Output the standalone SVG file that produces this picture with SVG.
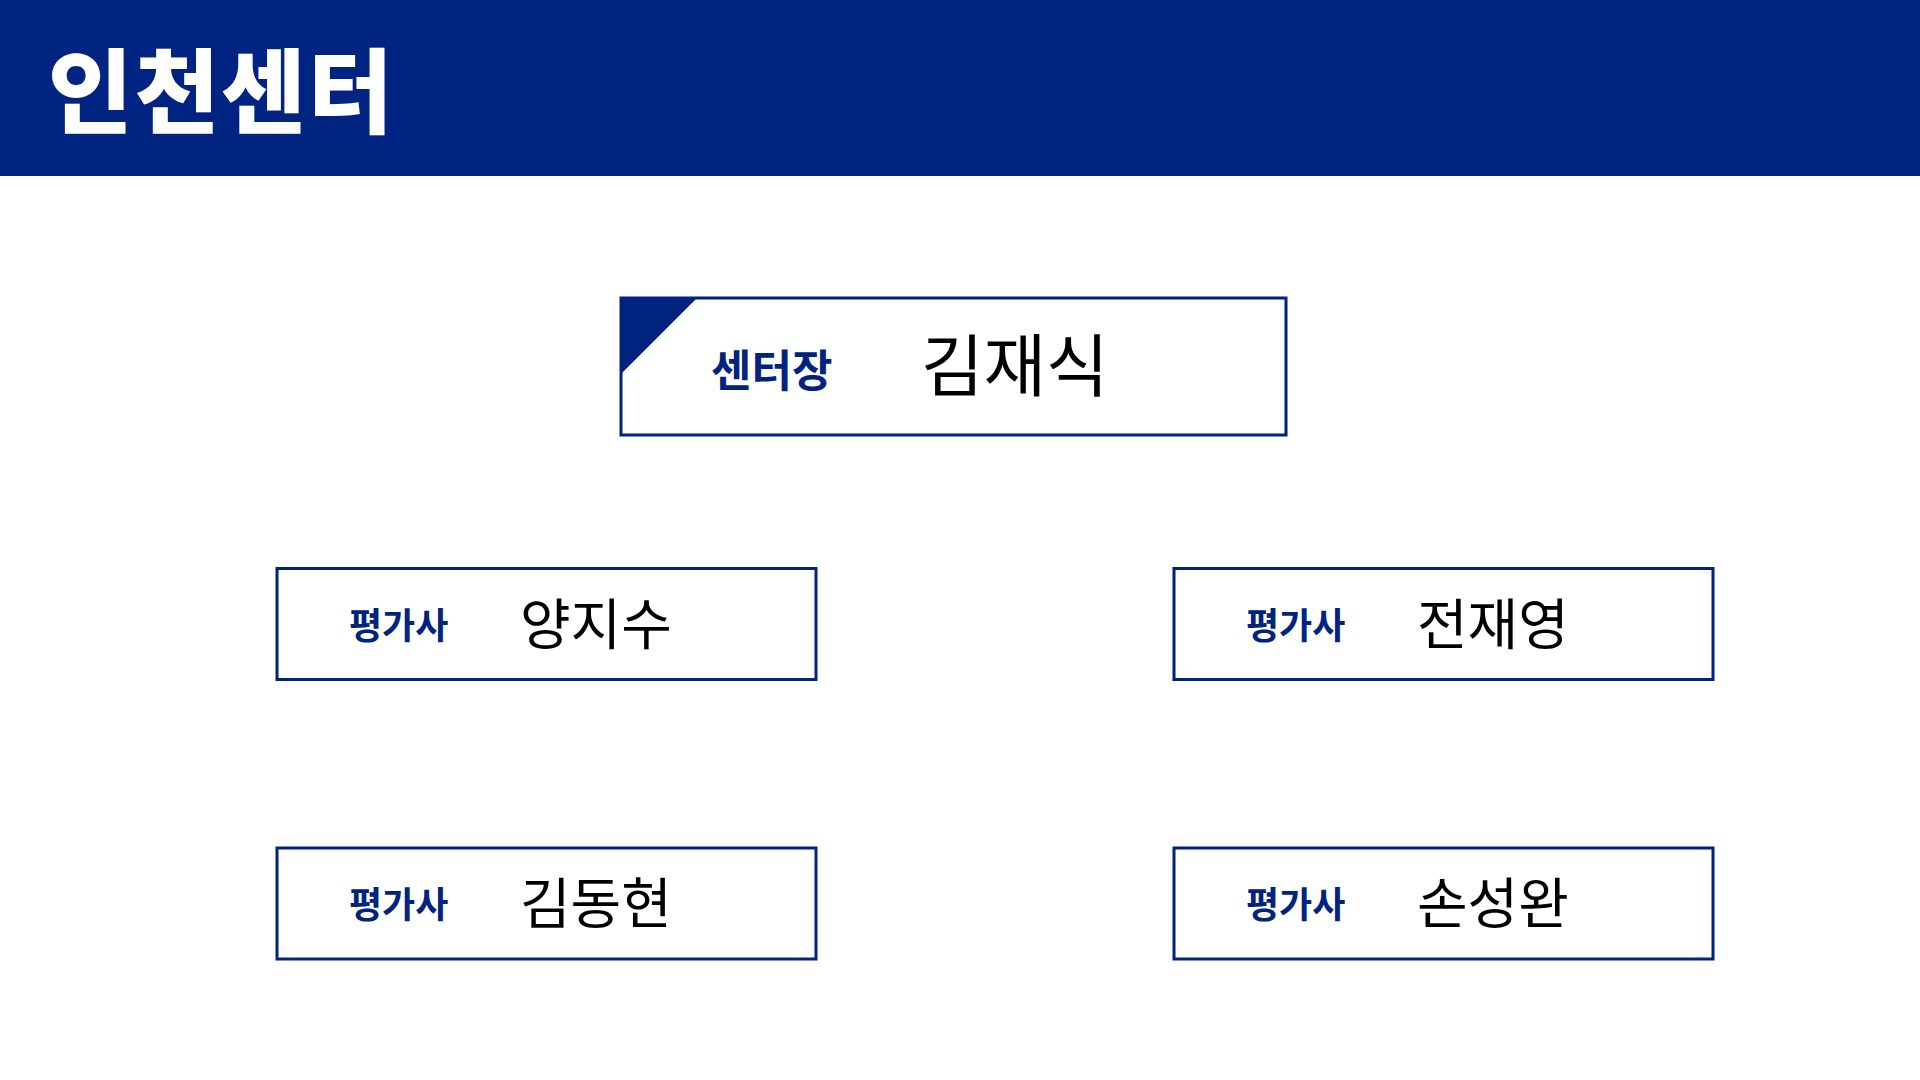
<svg xmlns="http://www.w3.org/2000/svg" width="1920" height="1080" viewBox="0 0 1920 1080">
<style>
.box{fill:#ffffff;stroke:#00237f;stroke-width:3}
.role{font-family:"Noto Sans CJK KR","Noto Sans",sans-serif;font-weight:700;fill:#00237f}
.name{font-family:"Noto Sans CJK KR","Noto Sans",sans-serif;font-weight:400;fill:#000000}
.title{font-family:"Noto Sans CJK KR","Noto Sans",sans-serif;font-weight:900;fill:#ffffff}
</style>
<rect x="0" y="0" width="1920" height="1080" fill="#ffffff"/>
<g id="header">
<rect x="0" y="0" width="1920" height="176" fill="#012482"/>
<text class="title" x="48" y="126" font-size="92" letter-spacing="2">인천센터</text>
</g>
<g id="connectors"></g>
<g id="node-head">
<rect class="box" x="621" y="298" width="665" height="137"/>
<polygon points="621,298 697,298 621,374" fill="#00237f"/>
<text class="role" x="711" y="387" font-size="44">센터장</text>
<text class="name" x="921" y="391" font-size="68">김재식</text>
</g>
<g id="node-yang">
<rect class="box" x="277" y="568.5" width="539" height="111"/>
<text class="role" x="349" y="639" font-size="36">평가사</text>
<text class="name" x="520" y="644" font-size="55">양지수</text>
</g>
<g id="node-jeon">
<rect class="box" x="1174" y="568.5" width="539" height="111"/>
<text class="role" x="1246" y="639" font-size="36">평가사</text>
<text class="name" x="1417" y="644" font-size="55">전재영</text>
</g>
<g id="node-kim">
<rect class="box" x="277" y="848" width="539" height="111"/>
<text class="role" x="349" y="918" font-size="36">평가사</text>
<text class="name" x="520" y="923" font-size="55">김동현</text>
</g>
<g id="node-son">
<rect class="box" x="1174" y="848" width="539" height="111"/>
<text class="role" x="1246" y="918" font-size="36">평가사</text>
<text class="name" x="1417" y="923" font-size="55">손성완</text>
</g>
</svg>
